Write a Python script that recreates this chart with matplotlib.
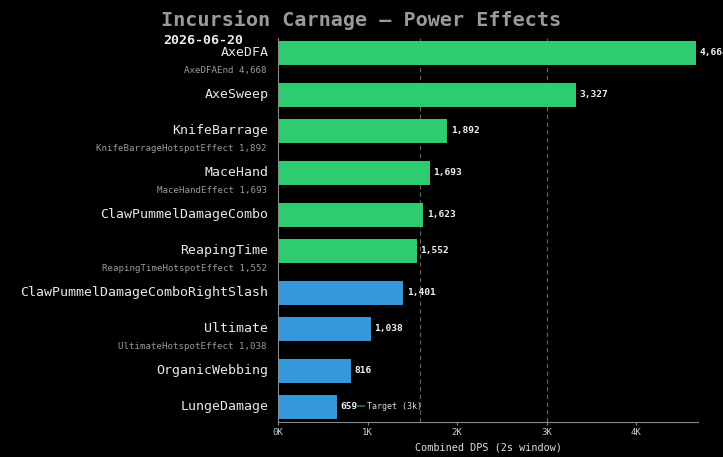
import matplotlib.pyplot as plt
from matplotlib.lines import Line2D

# data (top to bottom)
names = ['AxeDFA', 'AxeSweep', 'KnifeBarrage', 'MaceHand', 'ClawPummelDamageCombo',
         'ReapingTime', 'ClawPummelDamageComboRightSlash', 'Ultimate',
         'OrganicWebbing', 'LungeDamage']
dps = [4668, 3327, 1892, 1693, 1623, 1552, 1401, 1038, 816, 659]
sub_labels = ['AxeDFAEnd 4,668', '', 'KnifeBarrageHotspotEffect 1,892',
              'MaceHandEffect 1,693', '', 'ReapingTimeHotspotEffect 1,552', '',
              'UltimateHotspotEffect 1,038', '', '']
target = 3000
ref_line = 1580
title = 'Incursion Carnage — Power Effects'
date = '2026-06-20'

MONO = ['DejaVu Sans Mono']
GREEN = '#2ecc71'
BLUE = '#3498db'

fig = plt.figure(figsize=(7.23, 4.57), dpi=100, facecolor='black')
ax = fig.add_axes([0.3845, 0.0766, 0.581, 0.8405])
ax.set_facecolor('black')

# y positions: extra room under rows that carry a sub label
ys = []
y = 0.0
for s in sub_labels:
    ys.append(y)
    y += 1.167 if s else 1.0

colors = [GREEN if v >= 1500 else BLUE for v in dps]
ax.barh(ys, dps, height=0.66, color=colors, zorder=2)

ax.axvline(ref_line, color='#666666', lw=0.8, ls=(0, (4, 3)), zorder=1)
ax.axvline(target, color='#666666', lw=0.8, ls=(0, (4, 3)), zorder=1)

for yy, v in zip(ys, dps):
    ax.text(v + 40, yy, f'{v:,}', color='#f0f0f0', fontsize=6.8, fontweight='bold',
            family=MONO, va='center', ha='left', clip_on=False, zorder=3)

ax.set_xlim(0, 4690)
ax.set_ylim(ys[-1] + 0.42, -0.42)
ax.set_yticks([])

for yy, n, s in zip(ys, names, sub_labels):
    ax.annotate(n, xy=(0, yy), xycoords=('axes fraction', 'data'), xytext=(-7, 0),
                textcoords='offset points', ha='right', va='center', color='#e8e8e8',
                fontsize=9.5, family=MONO, annotation_clip=False)
    if s:
        ax.annotate(s, xy=(0, yy), xycoords=('axes fraction', 'data'), xytext=(-8, -12.5),
                    textcoords='offset points', ha='right', va='center', color='#999999',
                    fontsize=6.6, family=MONO, annotation_clip=False)

ax.set_xticks([0, 1000, 2000, 3000, 4000])
ax.set_xticklabels(['0K', '1K', '2K', '3K', '4K'], family=MONO, fontsize=6.5, color='#cccccc')
ax.tick_params(axis='x', colors='#888888', length=2.5, pad=1.5, labelcolor='#cccccc')
ax.set_xlabel('Combined DPS (2s window)', color='#dddddd', fontsize=7.3, family=MONO, labelpad=4)

for side in ['top', 'right']:
    ax.spines[side].set_visible(False)
ax.spines['left'].set_color('#888888')
ax.spines['bottom'].set_color('#888888')

h = Line2D([0], [0], color='#2d5a3a', lw=1.5)
leg = ax.legend([h], ['Target (3k)'], loc='center left', bbox_to_anchor=(0.17, 0.04),
                frameon=False, handlelength=0.9, handletextpad=0.35,
                prop={'family': MONO, 'size': 6.0})
for t in leg.get_texts():
    t.set_color('#dddddd')

fig.text(0.5, 0.957, title, ha='center', va='center', color='#9a9a9a',
         fontsize=14.5, family=MONO, fontweight='bold')
fig.text(0.2255, 0.912, date, ha='left', va='center', color='#eeeeee',
         fontsize=9.5, family=MONO, fontweight='bold')

fig.savefig('out.png', dpi=100, facecolor='black')
